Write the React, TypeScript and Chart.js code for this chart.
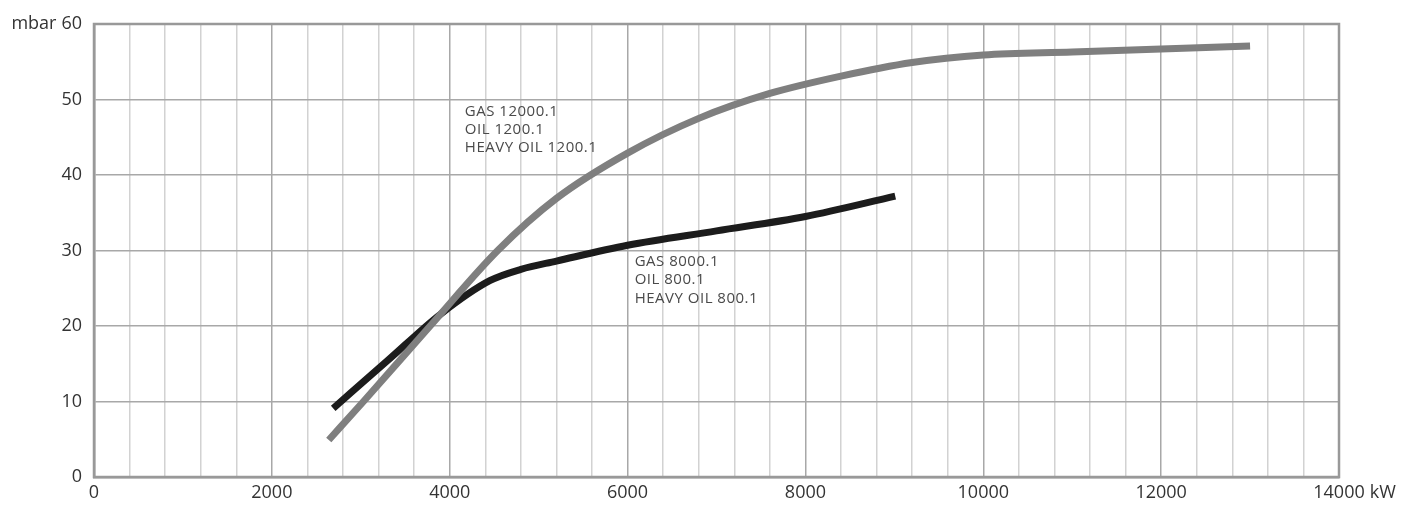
import React, { useEffect, useRef } from "react";
import { Chart, registerables } from "chart.js";

Chart.register(...registerables);

const bigX = [2640, 3030, 3780, 4540, 5200, 6000, 6800, 7600, 8400, 9200, 10000, 11000, 12000, 13000];
const bigY = [4.9, 10.0, 20.0, 30.0, 36.9, 42.9, 47.5, 50.8, 53.1, 54.9, 55.9, 56.3, 56.7, 57.1];

const smallX = [2690, 3300, 3900, 4450, 4800, 5200, 6000, 7000, 8000, 9010];
const smallY = [9.1, 15.4, 21.6, 26.0, 27.5, 28.6, 30.7, 32.6, 34.5, 37.2];

const labelBig = ["GAS 12000.1", "OIL 1200.1", "HEAVY OIL 1200.1"];
const labelSmall = ["GAS 8000.1", "OIL 800.1", "HEAVY OIL 800.1"];
const labelBigPos = { x: 4170, y: 49.4 };
const labelSmallPos = { x: 6080, y: 29.5 };

const xUnit = "kW";
const yUnit = "mbar";

const FONT = "'Open Sans', sans-serif";
const TICK_SIZE = 18;
const X_PAD = 5;

export default function App() {
  const ref = useRef<HTMLCanvasElement | null>(null);
  useEffect(() => {
    if (!ref.current) return;
    const annot = {
      id: "annot",
      afterDraw(chart: any) {
        const ctx = chart.ctx;
        const xs = chart.scales.x;
        const ys = chart.scales.y;
        ctx.save();
        ctx.font = `15px ${FONT}`;
        try {
          (ctx as any).letterSpacing = "0.5px";
        } catch (e) {}
        ctx.fillStyle = "#4a4a4a";
        ctx.textBaseline = "top";
        ctx.textAlign = "left";
        const drawBlock = (lines: string[], pos: { x: number; y: number }) => {
          const px = xs.getPixelForValue(pos.x);
          const py = ys.getPixelForValue(pos.y);
          lines.forEach((l, i) => ctx.fillText(l, px, py + i * 18.3));
        };
        drawBlock(labelBig, labelBigPos);
        drawBlock(labelSmall, labelSmallPos);
        try {
          (ctx as any).letterSpacing = "0px";
        } catch (e) {}
        ctx.font = `${TICK_SIZE}px ${FONT}`;
        ctx.fillStyle = "#333";
        const xMax = xs.getPixelForValue(14000);
        const w14 = ctx.measureText("14000").width;
        ctx.textBaseline = "middle";
        ctx.textAlign = "left";
        ctx.fillText(xUnit, xMax + w14 / 2 + 5, xs.top + X_PAD + (TICK_SIZE * 1.2) / 2);
        const w60 = ctx.measureText("60").width;
        ctx.textAlign = "right";
        ctx.fillText(yUnit, ys.right - 12 - w60 - 5, ys.getPixelForValue(60));
        ctx.restore();
      },
    };
    const chart = new Chart(ref.current, {
      type: "line",
      data: {
        datasets: [
          {
            data: bigX.map((x, i) => ({ x, y: bigY[i] })),
            borderColor: "#7f7f7f",
            borderWidth: 7,
            pointRadius: 0,
            cubicInterpolationMode: "monotone",
          },
          {
            data: smallX.map((x, i) => ({ x, y: smallY[i] })),
            borderColor: "#1c1c1c",
            borderWidth: 7,
            pointRadius: 0,
            cubicInterpolationMode: "monotone",
          },
        ],
      },
      options: {
        animation: false,
        responsive: false,
        maintainAspectRatio: false,
        layout: { padding: { left: 0, right: 72, top: 24, bottom: 0 } },
        plugins: { legend: { display: false }, tooltip: { enabled: false } },
        scales: {
          x: {
            type: "linear",
            min: 0,
            max: 14000,
            afterFit: (s: any) => {
              s.height = 29;
            },
            ticks: {
              stepSize: 400,
              autoSkip: false,
              maxRotation: 0,
              padding: X_PAD,
              color: "#333",
              font: { family: FONT, size: TICK_SIZE },
              callback: (v: any) => (Number(v) % 2000 === 0 ? String(v) : ""),
            },
            grid: {
              drawTicks: false,
              color: (c: any) => (c.tick && c.tick.value % 2000 === 0 ? "#a8a8a8" : "#d2d2d2"),
              lineWidth: 1.5,
            },
            border: { color: "#999", width: 2.5 },
          },
          y: {
            min: 0,
            max: 60,
            afterFit: (s: any) => {
              s.width = 94;
            },
            ticks: {
              stepSize: 10,
              padding: 12,
              color: "#333",
              font: { family: FONT, size: TICK_SIZE },
            },
            grid: { drawTicks: false, color: "#a8a8a8", lineWidth: 1.5 },
            border: { color: "#999", width: 2.5 },
          },
        },
      },
      plugins: [
        annot,
        {
          id: "frame",
          afterDatasetsDraw(chart: any) {
            const { ctx, chartArea: a } = chart;
            ctx.save();
            ctx.strokeStyle = "#999";
            ctx.lineWidth = 2.5;
            ctx.strokeRect(a.left, a.top, a.right - a.left, a.bottom - a.top);
            ctx.restore();
          },
        },
      ],
    } as any);
    return () => chart.destroy();
  }, []);
  return (
    <div style={{ position: "absolute", left: 0, top: 0, width: 1411, height: 506, background: "#fff" }}>
      <canvas ref={ref} width={1411} height={506} style={{ display: "block" }} />
    </div>
  );
}
